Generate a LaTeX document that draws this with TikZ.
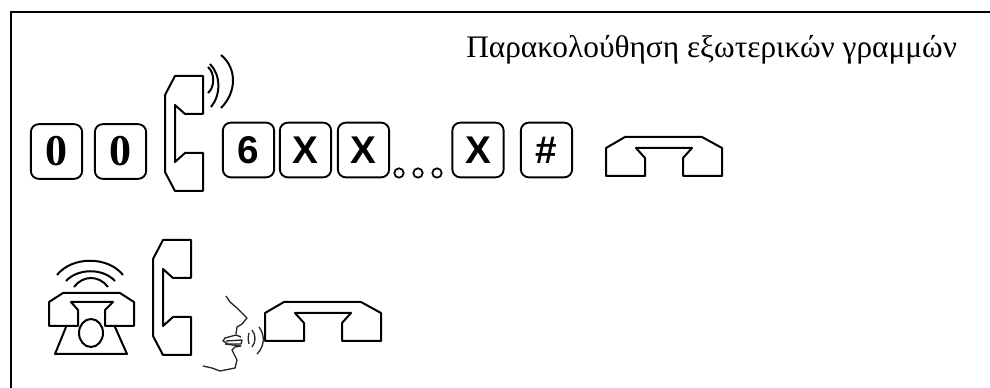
\documentclass[tikz,border=0pt]{standalone}
\usepackage{fontspec}
\setmainfont{Liberation Serif}
\setsansfont{Liberation Sans}
\tikzset{
  keybox/.style={draw,line width=1.4pt,rounded corners=6pt,minimum width=38.5pt,minimum height=41pt,inner sep=0pt},
  serifkey/.style={keybox,font=\fontsize{33}{33}\selectfont\bfseries},
  sanskey/.style={keybox,font=\fontsize{29}{29}\selectfont\sffamily\bfseries},
  dotmark/.style={circle,draw,line width=1.3pt,minimum size=7pt,inner sep=0pt},
  outline/.style={line width=1.5pt,line join=round},
  sketch/.style={line width=1pt,line join=round,black!85},
  liftup/.pic={
    \draw[outline] (28,-58) -- (0,-58) -- (-10,-39) -- (-10,38) -- (0,57) -- (28,57) -- (28,19) -- (10,19) -- (0,28) -- (0,-29) -- (10,-20) -- (28,-20) -- cycle;
  },
  hangup/.pic={
    \draw[outline] (-58,-1) -- (-39,-12) -- (38,-12) -- (58,-1) -- (58,27) -- (19,27) -- (19,9) -- (28,-1) -- (-28,-1) -- (-19,9) -- (-19,27) -- (-58,27) -- cycle;
  }
}
\begin{document}
\begin{tikzpicture}[x=.75pt,y=-.75pt]
  \useasboundingbox (0,0) rectangle (990,388);

  % frame
  \draw[line width=1.9pt] (11,388) -- (11,12) -- (990,12);

  \node[anchor=base west,inner sep=0pt,font=\fontsize{23.5}{23.5}\selectfont] (title) at (466,58) {Παρακολούθηση εξωτερικών γραμμών};

  % first row
  \node[serifkey] (zeroa) at (56.5,151.5) {0};
  \node[serifkey] (zerob) at (120.5,151.5) {0};
  \pic at (175,134) {liftup};
  \draw[outline] (208,67) .. controls (215,73) and (215,87) .. (208,93);
  \draw[outline] (210,64) .. controls (221,75) and (221,95) .. (211,107);
  \draw[outline] (221,55) .. controls (237,68) and (237,92) .. (221,108);
  \node[sanskey] (six) at (248.5,150) {6};
  \node[sanskey] (xa) at (305.5,150) {X};
  \node[sanskey] (xb) at (363.5,150) {X};
  \node[dotmark] (dota) at (399,173) {};
  \node[dotmark] (dotb) at (418,173) {};
  \node[dotmark] (dotc) at (437,173) {};
  \node[sanskey] (xc) at (478,150) {X};
  \node[sanskey] (hash) at (546.5,150) {\#};
  \pic at (664,149) {hangup};

  % second row: ringing phone
  \draw[outline] (57,275) .. controls (72,256) and (108,256) .. (123,275);
  \draw[outline] (66,281) .. controls (78,268) and (103,268) .. (115,281);
  \draw[outline] (74,287) .. controls (83,275) and (99,275) .. (108,287);
  \draw[outline] (49,302) -- (63,293) -- (120,293) -- (134,302) -- (134,326) -- (105,326) -- (105,310) -- (113,302) -- (71,302) -- (78,310) -- (78,326) -- (49,326) -- cycle;
  \draw[outline] (66,327) -- (55,354) -- (127,354) -- (115,327);
  \draw[outline] (91,333) ellipse (12 and 14);
  \pic at (163,298) {liftup};

  % second row: talking face
  \draw[sketch] (226,296) -- (230,302) -- (237,308) -- (247,318) -- (242,324) -- (237,327) -- (236,334);
  \draw[sketch] (241,337) -- (236,335) -- (225,338) -- (223,341) -- (228,344) -- (241,344) -- (242,340) -- (226,341);
  \draw[sketch] (225,344) -- (241,346) -- (235,347) -- (232,350) -- (237,360) -- (235,368) -- (220,371) -- (212,368) -- (203,366);
  \draw[sketch] (249,333) .. controls (248,337) and (248,340) .. (249,344);
  \draw[sketch] (252,330) .. controls (256,335) and (256,342) .. (252,347);
  \draw[sketch] (259,327) .. controls (265,335) and (265,346) .. (257,354);
  \pic at (323,314) {hangup};
\end{tikzpicture}
\end{document}
